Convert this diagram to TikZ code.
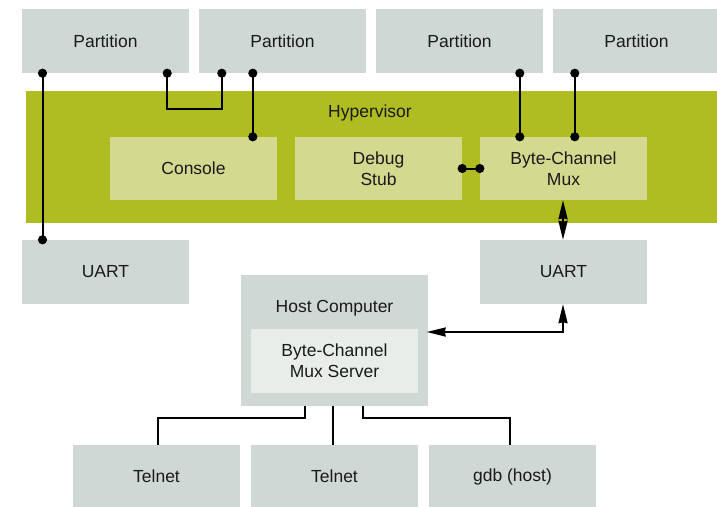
\documentclass[tikz,border=0pt]{standalone}
\usepackage{fontspec}
\setmainfont{Liberation Sans}
\usetikzlibrary{arrows.meta,calc}

\definecolor{boxgray}{HTML}{CFD8D4}
\definecolor{hvgreen}{HTML}{AFBC22}
\definecolor{hvinner}{HTML}{D3D98F}
\definecolor{srvinner}{HTML}{E8EDE9}
\definecolor{txt}{HTML}{1A1A1A}

\tikzset{
  blk/.style={fill=boxgray, draw=none, minimum width=167pt, minimum height=64pt,
              inner sep=0pt, font=\fontsize{17.5}{21}\selectfont, text=txt, align=center},
  hvblk/.style={blk, fill=hvinner, minimum height=63pt},
  srvblk/.style={blk, fill=srvinner},
  lbl/.style={font=\fontsize{17.5}{21}\selectfont, text=txt, inner sep=0pt},
  wire/.style={line width=2pt, black},
  dotwire/.style={wire, {Circle[length=9pt]}-{Circle[length=9pt]}, shorten <=-4.5pt, shorten >=-4.5pt},
  arrwire/.style={wire, {Stealth[length=19pt,width=9pt,inset=1pt]}-{Stealth[length=19pt,width=9pt,inset=1pt]}}
}

\begin{document}
\begin{tikzpicture}[x=1pt, y=-1pt]
  \useasboundingbox (0,0) rectangle (717,506);

  % partitions
  \node[blk] (p1) at (105.5,41) {Partition};
  \node[blk] (p2) at (282.5,41) {Partition};
  \node[blk] (p3) at (459.5,41) {Partition};
  \node[blk] (p4) at (636.5,41) {Partition};

  % hypervisor layer and its components
  \node[fill=hvgreen, minimum width=691pt, minimum height=132pt, inner sep=0pt] (hv) at (371.5,157) {};
  \node[lbl] (hvlabel) at (370,113) {Hypervisor};
  \node[hvblk] (console) at (193.5,168.5) {Console};
  \node[hvblk] (debug) at (378.5,168.5) {Debug\\Stub};
  \node[hvblk] (mux) at (563.5,168.5) {Byte-Channel\\Mux};

  % serial ports
  \node[blk] (uartl) at (105.5,272) {UART};
  \node[blk] (uartr) at (563.5,272) {UART};

  % host side
  \node[blk, minimum width=187pt, minimum height=131pt] (host) at (334.5,340.5) {};
  \node[lbl] (hostlabel) at (334.5,308) {Host Computer};
  \node[srvblk] (server) at (334.5,361) {Byte-Channel\\Mux Server};

  \node[blk, minimum height=63pt] (telnet1) at (156.5,476.5) {Telnet};
  \node[blk, minimum height=63pt] (telnet2) at (334.5,476.5) {Telnet};
  \node[blk, minimum height=63pt] (gdb) at (512.5,476.5) {gdb (host)};

  % partition links
  \draw[dotwire] ([xshift=20.7pt]p1.south west) -- ([xshift=20.7pt]uartl.north west);
  \draw[dotwire] ([xshift=-22pt]p1.south east) -- ++(0,36) -| ([xshift=23pt]p2.south west);
  \coordinate (p2c) at ([xshift=54pt]p2.south west);
  \draw[dotwire] (p2c) -- (p2c |- console.north);
  \coordinate (p3c) at ([xshift=144pt]p3.south west);
  \draw[dotwire] (p3c) -- (p3c |- mux.north);
  \coordinate (p4c) at ([xshift=22pt]p4.south west);
  \draw[dotwire] (p4c) -- (p4c |- mux.north);
  \draw[dotwire] (debug.east) -- (mux.west);

  % serial paths
  \draw[arrwire] ([xshift=-0.5pt]mux.south) -- ([xshift=-0.5pt]uartr.north);
  \draw[arrwire] ([xshift=-1.5pt,yshift=8.5pt]host.east) -| ([xshift=-0.5pt]uartr.south);

  % host fan-out
  \draw[wire] ([xshift=64pt]host.south west) -- ++(0,11.5) -| ([xshift=1.5pt]telnet1.north);
  \draw[wire] ([xshift=-1.5pt]host.south) -- ([xshift=-1.5pt]telnet2.north);
  \draw[wire] ([xshift=122pt]host.south west) -- ++(0,11.5) -| ([xshift=-2.5pt]gdb.north);
\end{tikzpicture}
\end{document}
